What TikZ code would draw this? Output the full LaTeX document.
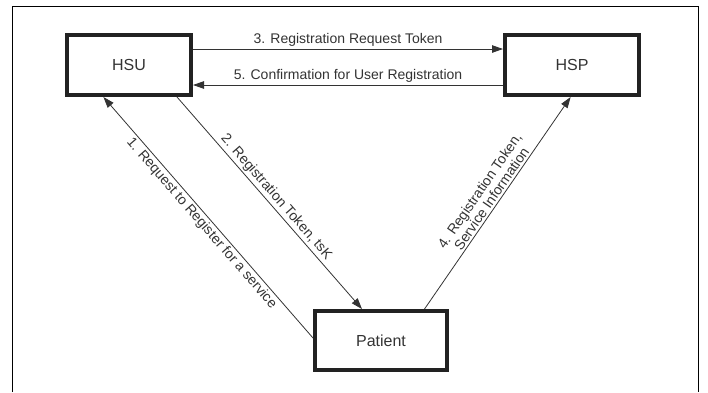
\documentclass[tikz,border=0pt]{standalone}
\usepackage{fontspec}
\setmainfont{Liberation Sans}
\usetikzlibrary{calc,arrows.meta}
\definecolor{boxc}{HTML}{222222}
\definecolor{linec}{HTML}{333333}
\begin{document}
\begin{tikzpicture}[x=1pt,y=-1pt,
  ent/.style={draw=boxc,line width=4pt,minimum height=60pt,inner sep=0pt,font=\fontsize{16}{18}\selectfont,text=linec},
  msg/.style={draw=linec,line width=0.8pt,-{Triangle[length=11pt,width=7.5pt]}},
  lbl/.style={font=\fontsize{14}{14.5}\selectfont,text=linec,inner sep=2pt}]
\useasboundingbox (0,0) rectangle (708,392);
\draw[line width=1pt] (12,392) -- (12,6) -- (698,6) -- (698,392);
\node[ent,minimum width=124pt] (hsu) at (129,65) {HSU};
\node[ent,minimum width=134pt] (hsp) at (572,65) {HSP};
\node[ent,minimum width=132pt,minimum height=59pt] (pat) at (381,340.5) {Patient};
% connector end points on box borders
\coordinate (a3) at ($(hsu.north east)!0.25!(hsu.south east)$);
\coordinate (b3) at ($(hsp.north west)!0.25!(hsp.south west)$);
\coordinate (a5) at ($(hsp.north west)!0.8125!(hsp.south west)$);
\coordinate (b5) at ($(hsu.north east)!0.8125!(hsu.south east)$);
\coordinate (a1) at ($(pat.north west)!0.46!(pat.south west)$);
\coordinate (b1) at ($(hsu.south west)!0.30!(hsu.south east)$);
\coordinate (a2) at ($(hsu.south west)!0.875!(hsu.south east)$);
\coordinate (b2) at ($(pat.north west)!0.36!(pat.north east)$);
\coordinate (a4) at ($(pat.north west)!0.82!(pat.north east)$);
\coordinate (b4) at ($(hsp.south west)!0.49!(hsp.south east)$);
\draw[msg] (a3) -- node[lbl,above] {3. Registration Request Token} (b3);
\draw[msg] (a5) -- node[lbl,above] {5. Confirmation for User Registration} (b5);
\draw[msg] (a1) -- node[lbl,sloped,below] {1. Request to Register for a service} (b1);
\draw[msg] (a2) -- node[lbl,sloped,above] {2. Registration Token, tsK} (b2);
\draw[msg] (a4) -- node[lbl,sloped,above,align=center] {4. Registration Token,\\Service Information} (b4);
\end{tikzpicture}
\end{document}
